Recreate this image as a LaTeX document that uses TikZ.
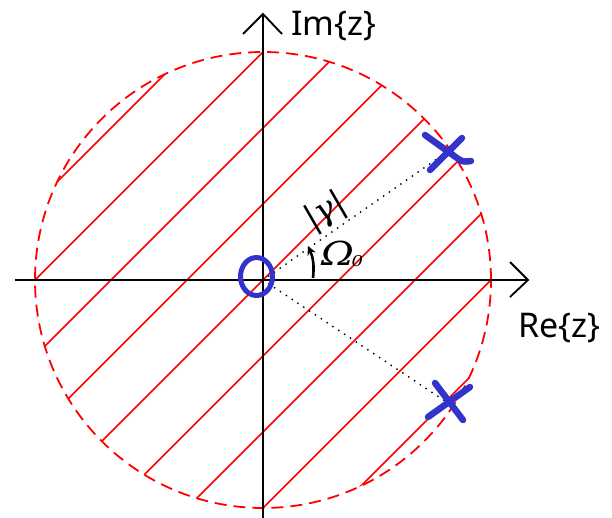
\documentclass[tikz,border=0pt]{standalone}
\usepackage{fontspec}
\setmainfont{Noto Sans}
\newfontfamily\handfont{DejaVu Serif}
\usetikzlibrary{arrows.meta}
\definecolor{hatchred}{RGB}{255,0,0}
\definecolor{penblue}{RGB}{51,51,204}
\begin{document}
\begin{tikzpicture}[x=1pt,y=1pt,
  axis/.style={line width=1.8pt,black},
  chevron/.style={line width=1.8pt,black,line join=miter},
  hatch/.style={line width=1.6pt,hatchred},
  rim/.style={line width=1.8pt,hatchred,dash pattern=on 12pt off 7pt},
  pen/.style={line width=6.5pt,penblue,line cap=round,line join=round},
  dots/.style={line width=2pt,line cap=round,dash pattern=on 0pt off 7pt},
  lbl/.style={font=\fontsize{34}{40}\selectfont,inner sep=0pt},
  hand/.style={font=\handfont\itshape\fontsize{33}{36}\selectfont,inner sep=0pt}]
\useasboundingbox (-263,-237) rectangle (349,280);
\coordinate (O) at (0,0);
% hatching
\begin{scope}
  \clip (O) circle[radius=228];
  \foreach \c in {-304,-228,-152,-76,0,76,152,228,304}
    \draw[hatch] (-300,-300+\c) -- (300,300+\c);
\end{scope}
% dashed unit circle
\draw[rim] (O) circle[radius=228];
% axes
\coordinate (xs) at (-248,0);
\coordinate (xe) at (265,0);
\coordinate (ys) at (0,-240);
\coordinate (ye) at (0,266);
\draw[axis] (xs) -- (xe);
\draw[axis] (ys) -- (ye);
\draw[chevron] (247,18) -- (xe) -- (247,-17);
\draw[chevron] (-20,246) -- (ye) -- (19,246);
% labels
\node[lbl,anchor=base west] (im) at (28,244) {Im\{z\}};
\node[lbl,anchor=base west] (re) at (255,-57) {Re\{z\}};
% poles
\coordinate (p1) at (184,128);
\coordinate (p2) at (185,-123);
\draw[dots] (O) -- (p1);
\draw[dots] (O) -- (p2);
\draw[pen] (162,145) -- (194,122) .. controls (200,118) .. (208,119);
\draw[pen] (199,142) -- (167,110);
\draw[pen] (172,-103) -- (200,-140);
\draw[pen] (207,-107) -- (165,-137);
% zero
\draw[pen,line width=5pt] (-6.5,3.5) ellipse[x radius=16, y radius=19];
% handwritten labels
\node[hand,rotate=30] (gam) at (63,68) {|γ|};
\node[hand,anchor=base west,xscale=1.2] (om) at (58,15) {Ω\kern-2pt\raisebox{-1pt}{\fontsize{15}{15}\selectfont 0}};
\coordinate (a1) at (50,2);
\coordinate (a2) at (45,34);
\draw[line width=2.6pt,-{Stealth[length=9pt,width=9pt]}] (a1) to[bend right=15] (a2);
\end{tikzpicture}
\end{document}
